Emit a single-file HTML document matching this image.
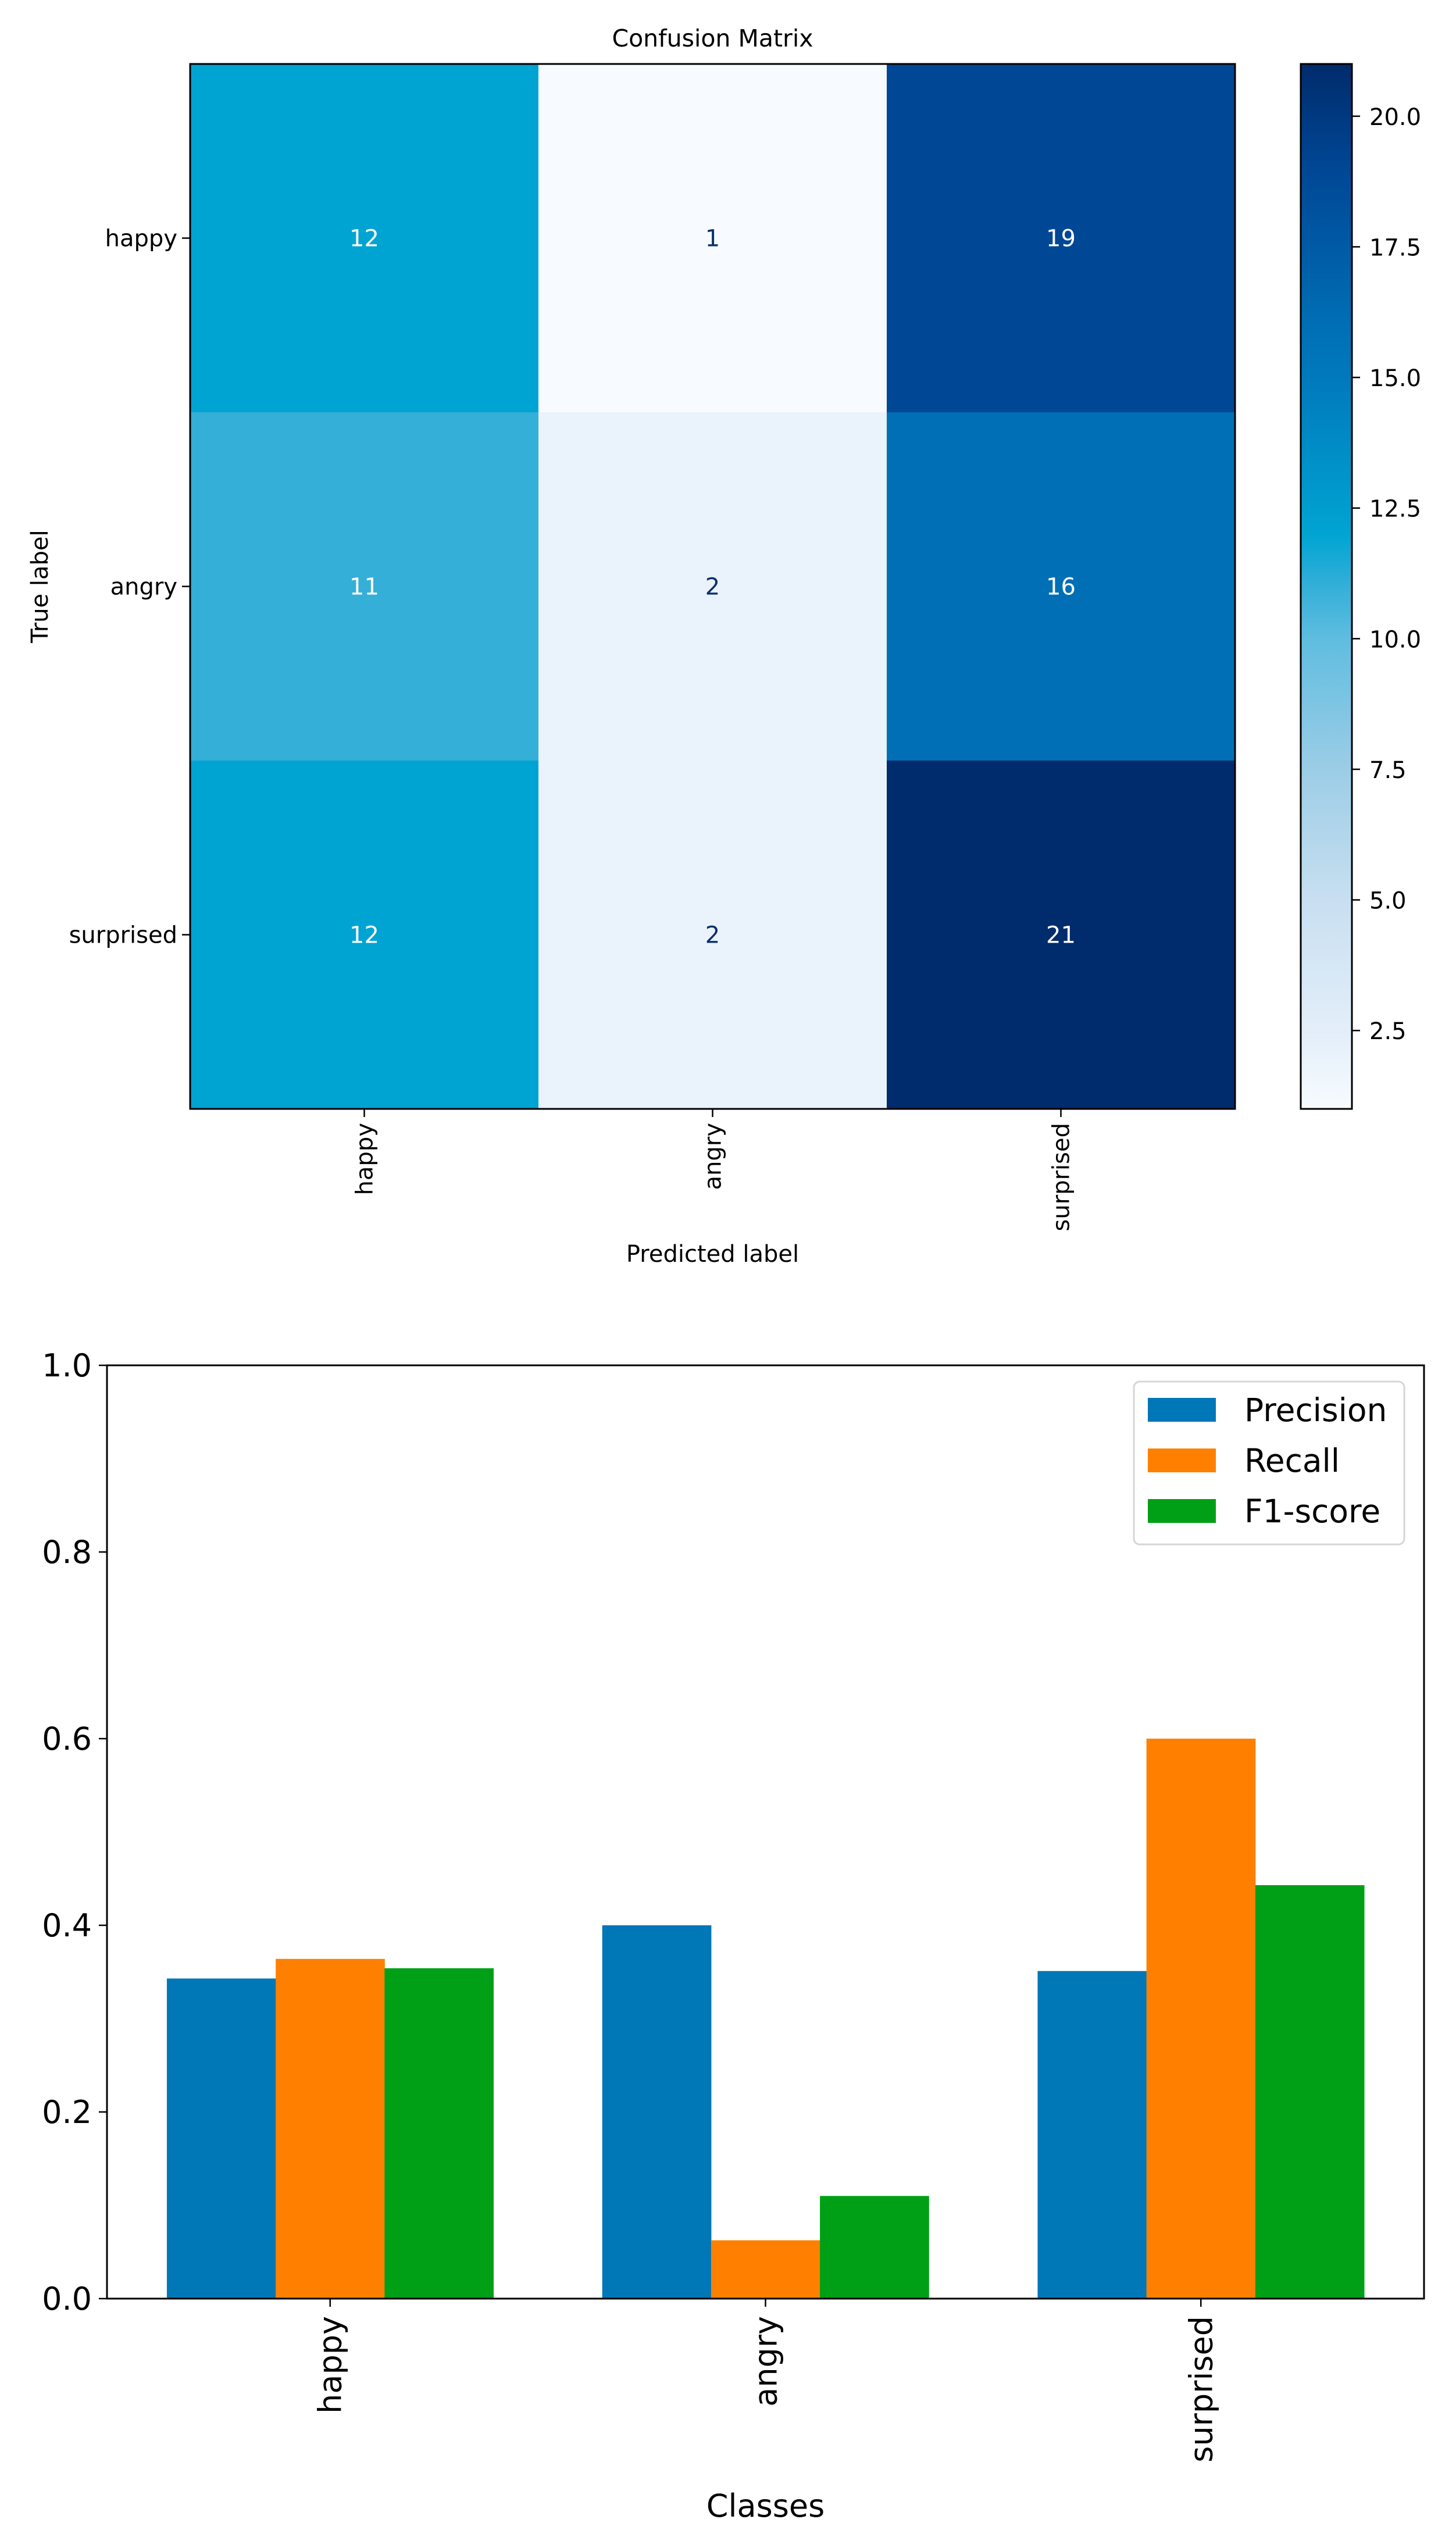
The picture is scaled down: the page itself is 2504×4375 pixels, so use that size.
<!DOCTYPE html>
<html><head><meta charset="utf-8"><style>
html,body{margin:0;padding:0;background:#fff;}
svg{display:block;font-family:"DejaVu Sans","Liberation Sans",sans-serif;}
</style></head><body>
<svg id="fig" width="2504" height="4375" viewBox="0 0 2504 4375" xmlns="http://www.w3.org/2000/svg">
<defs>
<linearGradient id="cbar" x1="0" y1="1" x2="0" y2="0">
<stop offset="0" stop-color="#f7fbff"/><stop offset="0.075" stop-color="#e3eef9"/><stop offset="0.2" stop-color="#c8dff1"/>
<stop offset="0.325" stop-color="#9ccde6"/><stop offset="0.45" stop-color="#5fbde0"/><stop offset="0.5" stop-color="#34afd8"/>
<stop offset="0.55" stop-color="#00a4d3"/><stop offset="0.6" stop-color="#0096cb"/><stop offset="0.7" stop-color="#0079bc"/>
<stop offset="0.75" stop-color="#006fb5"/><stop offset="0.825" stop-color="#005aa5"/><stop offset="0.9" stop-color="#004795"/>
<stop offset="1" stop-color="#002b6c"/>
</linearGradient>
</defs>
<g id="hm"></g>
<g id="bc"></g>
</svg>
<script>
const NS='http://www.w3.org/2000/svg';
// ---- confusion matrix data ----
const cmLabels=['happy','angry','surprised'];
const cmValues=[[12,1,19],[11,2,16],[12,2,21]];
const cbTicks=[2.5,5.0,7.5,10.0,12.5,15.0,17.5,20.0];
const cbMin=1, cbMax=21;
// ---- bar chart data ----
const classes=['happy','angry','surprised'];
const precision=[0.343,0.40,0.351];
const recall=[0.364,0.0625,0.60];
const f1score=[0.354,0.11,0.443];
const yTicks=[0.0,0.2,0.4,0.6,0.8,1.0];

function mk(tag,attrs,parent,text){const e=document.createElementNS(NS,tag);for(const k in attrs)e.setAttribute(k,attrs[k]);if(text!==undefined)e.textContent=text;parent.appendChild(e);return e;}
const cstops=[[1,[247,251,255]],[2.5,[227,238,249]],[5,[200,223,241]],[7.5,[156,205,230]],[10,[95,189,224]],[11,[52,175,216]],[12,[0,164,211]],[13,[0,150,203]],[15,[0,121,188]],[16,[0,111,181]],[17.5,[0,90,165]],[19,[0,71,149]],[21,[0,43,108]]];
function cmap(v){for(let i=1;i<cstops.length;i++){if(v<=cstops[i][0]){const a=cstops[i-1],b=cstops[i];const t=(v-a[0])/(b[0]-a[0]);return 'rgb('+a[1].map((c,j)=>Math.round(c+(b[1][j]-c)*t)).join(',')+')';}}return 'rgb(0,43,108)';}

// heatmap
const hm=document.getElementById('hm');
const HL=327,HT=110,HR=2124,HB=1907;
const cw=(HR-HL)/cmLabels.length, ch=(HB-HT)/cmLabels.length;
const t=mk('text',{x:(HL+HR)/2,y:80,'text-anchor':'middle','font-size':41},hm,'Confusion Matrix');

cmValues.forEach((row,i)=>row.forEach((v,j)=>{
  const r=mk('rect',{x:HL+j*cw,y:HT+i*ch,width:cw+0.5,height:ch+0.5,fill:cmap(v)},hm);
  
  
  const tx=mk('text',{x:HL+(j+0.5)*cw,y:HT+(i+0.5)*ch+14,'text-anchor':'middle','font-size':40,fill:v>6?'#ffffff':'#08306b'},hm,String(v));
  
  
}));
mk('rect',{x:HL,y:HT,width:HR-HL,height:HB-HT,fill:'none',stroke:'#000','stroke-width':3},hm);
cmLabels.forEach((l,i)=>{
  const y=HT+(i+0.5)*ch;
  mk('line',{x1:HL-14,x2:HL,y1:y,y2:y,stroke:'#000','stroke-width':2.5},hm);
  const a=mk('text',{x:HL-22,y:y+14,'text-anchor':'end','font-size':40},hm,l);
  
  const x=HL+(i+0.5)*cw;
  mk('line',{x1:x,x2:x,y1:HB,y2:HB+14,stroke:'#000','stroke-width':2.5},hm);
  const b=mk('text',{x:0,y:0,'text-anchor':'end','font-size':40,transform:'translate('+(x+14)+','+(HB+24)+') rotate(-90)'},hm,l);
  
});
const xl=mk('text',{x:(HL+HR)/2,y:2170,'text-anchor':'middle','font-size':40},hm,'Predicted label');

const yl=mk('text',{x:0,y:0,'text-anchor':'middle','font-size':40,transform:'translate(82,'+((HT+HB)/2)+') rotate(-90)'},hm,'True label');

// colorbar
const CL=2237,CR=2325;
const cb=mk('rect',{x:CL,y:HT,width:CR-CL,height:HB-HT,fill:'url(#cbar)',stroke:'#000','stroke-width':3},hm);

cbTicks.forEach(v=>{
  const y=HT+(cbMax-v)/(cbMax-cbMin)*(HB-HT);
  mk('line',{x1:CR,x2:CR+14,y1:y,y2:y,stroke:'#000','stroke-width':2.5},hm);
  const e=mk('text',{x:CR+30,y:y+15,'font-size':40},hm,v.toFixed(1));
  
});

// bar chart
const bc=document.getElementById('bc');
const L=184,R=2449,T=2348,B=3953;
const xmin=-0.5125,xmax=2.5125;
const X=v=>L+(v-xmin)/(xmax-xmin)*(R-L);
const Y=v=>B-v*(B-T);
const bw=0.25;
const series=[[precision,'#0077b6','Precision'],[recall,'#ff8000','Recall'],[f1score,'#00a016','F1-score']];
series.forEach((s,k)=>{
  s[0].forEach((v,i)=>{
    const x0=X(i+(k-1)*bw-bw/2), x1=X(i+(k-1)*bw+bw/2);
    const r=mk('rect',{x:x0,y:Y(v),width:x1-x0+0.5,height:Y(0)-Y(v),fill:s[1]},bc);
    
    
  });
});
mk('rect',{x:L,y:T,width:R-L,height:B-T,fill:'none',stroke:'#000','stroke-width':3},bc);
yTicks.forEach(v=>{
  const y=Y(v);
  mk('line',{x1:L-14,x2:L,y1:y,y2:y,stroke:'#000','stroke-width':2.5},bc);
  const e=mk('text',{x:L-26,y:y+19,'text-anchor':'end','font-size':54},bc,v.toFixed(1));
  
});
classes.forEach((c,i)=>{
  const x=X(i);
  mk('line',{x1:x,x2:x,y1:B,y2:B+14,stroke:'#000','stroke-width':2.5},bc);
  const e=mk('text',{x:0,y:0,'text-anchor':'end','font-size':54,transform:'translate('+(x+19)+','+(B+30)+') rotate(-90)'},bc,c);
  
});
const cl=mk('text',{x:X(1),y:4328,'text-anchor':'middle','font-size':54},bc,'Classes');

// legend
const lg=mk('g',{},bc);

mk('rect',{x:1950,y:2376,width:465,height:280,rx:10,fill:'#fff',stroke:'#d6d6d6','stroke-width':3},lg);
series.forEach((s,k)=>{
  const y=2404+k*87;
  mk('rect',{x:1974,y:y,width:117,height:41,fill:s[1]},lg);
  const e=mk('text',{x:2140,y:y+40,'font-size':55},lg,s[2]);
  
});
</script>
</body></html>
